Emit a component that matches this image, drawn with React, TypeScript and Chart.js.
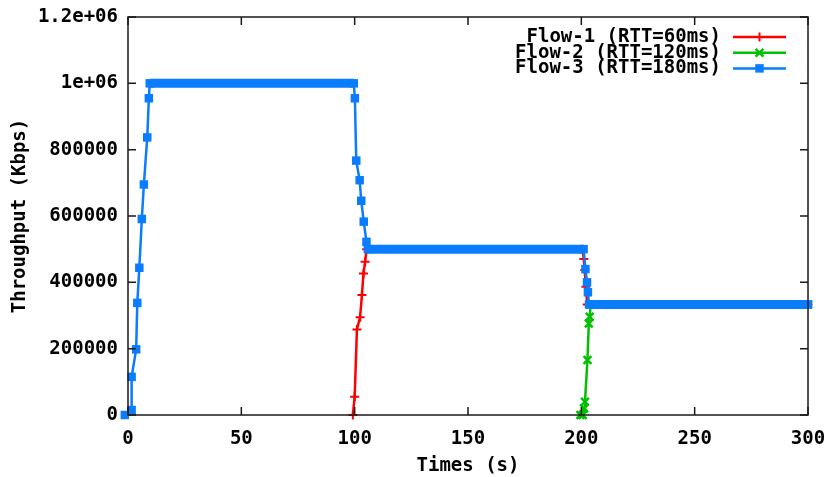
import React, { useEffect, useRef } from 'react';
import { Chart, registerables } from 'chart.js';
import { drawPoint } from 'chart.js/helpers';

Chart.register(...registerables);

// ---- data ----
const xTicks = [0, 50, 100, 150, 200, 250, 300];
const xTickLabels = ['0', '50', '100', '150', '200', '250', '300'];
const yTicks = [0, 200000, 400000, 600000, 800000, 1000000, 1200000];
const yTickLabels = ['0', '200000', '400000', '600000', '800000', '1e+06', '1.2e+06'];

const flow1Times = [99.2, 100, 101, 102.4, 103.2, 103.9, 104.6, 105.3, 200.5, 201.1, 201.5, 202, 202.6, 300];
const flow1Values = [0, 55000, 258000, 295000, 362000, 427000, 462000, 500000, 500000, 470000, 437000, 387000, 333333, 333333];

const flow2Times = [199.6, 200.6, 201.2, 201.6, 202.7, 203.3, 203.7, 204.1, 300];
const flow2Values = [0, 0, 20000, 40000, 166000, 276000, 296000, 333333, 333333];

const flow3Times = [-1.4, 1.6, 1.6, 3.6, 4.1, 5.0, 6.1, 7.0, 8.5, 9.2, 9.6, 99.6, 100.1, 100.7, 102.2, 102.9, 104.0, 105.2, 105.8, 201, 201.8, 202.5, 202.9, 203.4, 300];
const flow3Values = [0, 15000, 115000, 198000, 338000, 444000, 591000, 695000, 837000, 955000, 1000000, 1000000, 955000, 767000, 708000, 646000, 583000, 522000, 500000, 500000, 440000, 400000, 370000, 333333, 333333];

const seriesLabels = ['Flow-1 (RTT=60ms)', 'Flow-2 (RTT=120ms)', 'Flow-3 (RTT=180ms)'];
const seriesColors = ['#ff0000', '#00c000', '#0a7cff'];

const xTitle = 'Times (s)';
const yTitle = 'Throughput (Kbps)';

const FONT = '"DejaVu Sans Mono", "Liberation Mono", monospace';
const FS = 19;

const toPoints = (xs: number[], ys: number[]) => xs.map((x, i) => ({ x, y: ys[i] }));

const zeroPadding = (s: any) => {
  s.paddingTop = 0;
  s.paddingBottom = 0;
  s.paddingLeft = 0;
  s.paddingRight = 0;
};

const framePlugin = {
  id: 'gnuFrame',
  afterDatasetsDraw(chart: any) {
    const { ctx, chartArea } = chart;
    const { left, right, top, bottom } = chartArea;
    const xs = chart.scales.x;
    const ys = chart.scales.y;
    ctx.save();
    ctx.strokeStyle = '#1a1a1a';
    ctx.lineWidth = 1.5;
    ctx.beginPath();
    const tl = 8;
    xTicks.forEach((v) => {
      const px = xs.getPixelForValue(v);
      ctx.moveTo(px, bottom);
      ctx.lineTo(px, bottom - tl);
      ctx.moveTo(px, top);
      ctx.lineTo(px, top + tl);
    });
    yTicks.forEach((v) => {
      const py = ys.getPixelForValue(v);
      ctx.moveTo(left, py);
      ctx.lineTo(left + tl, py);
      ctx.moveTo(right, py);
      ctx.lineTo(right - tl, py);
    });
    ctx.stroke();
    ctx.strokeRect(left, top, right - left, bottom - top);
    ctx.restore();
  },
};

const legendPlugin = {
  id: 'gnuLegend',
  afterDraw(chart: any) {
    const { ctx } = chart;
    ctx.save();
    ctx.font = `bold ${FS}px ${FONT}`;
    ctx.textAlign = 'right';
    ctx.textBaseline = 'middle';
    chart.data.datasets.forEach((ds: any, i: number) => {
      const y = 37 + i * 15.7;
      ctx.fillStyle = '#000';
      ctx.fillText(ds.label, 721, y);
      ctx.strokeStyle = ds.borderColor;
      ctx.lineWidth = 2.5;
      ctx.beginPath();
      ctx.moveTo(733, y);
      ctx.lineTo(786, y);
      ctx.stroke();
      ctx.fillStyle = ds.borderColor;
      ctx.lineWidth = ds.pointBorderWidth;
      drawPoint(ctx, { pointStyle: ds.pointStyle, radius: ds.pointRadius, rotation: 0, borderWidth: ds.pointBorderWidth }, 759.5, y);
    });
    ctx.restore();
  },
};

export default function App() {
  const ref = useRef<HTMLCanvasElement>(null);
  useEffect(() => {
    document.body.style.margin = '0';
    document.body.style.overflow = 'hidden';
    const canvas = ref.current;
    if (!canvas) return;
    const chart = new Chart(canvas, {
      type: 'line',
      data: {
        datasets: [
          {
            label: seriesLabels[0],
            data: toPoints(flow1Times, flow1Values),
            borderColor: seriesColors[0],
            backgroundColor: seriesColors[0],
            borderWidth: 2.5,
            pointStyle: 'cross',
            pointRadius: 4.5,
            pointBorderWidth: 2,
            pointBorderColor: seriesColors[0],
            clip: false,
            order: 3,
          } as any,
          {
            label: seriesLabels[1],
            data: toPoints(flow2Times, flow2Values),
            borderColor: seriesColors[1],
            backgroundColor: seriesColors[1],
            borderWidth: 2.5,
            pointStyle: 'crossRot',
            pointRadius: 5.5,
            pointBorderWidth: 2.5,
            pointBorderColor: seriesColors[1],
            clip: false,
            order: 2,
          } as any,
          {
            label: seriesLabels[2],
            data: toPoints(flow3Times, flow3Values),
            borderColor: seriesColors[2],
            backgroundColor: seriesColors[2],
            borderWidth: 2.5,
            pointStyle: 'rect',
            pointRadius: 6,
            pointBorderWidth: 0,
            pointBorderColor: seriesColors[2],
            clip: false,
            order: 1,
            segment: {
              borderWidth: (c: any) => (c.p0.parsed.y === c.p1.parsed.y && c.p0.parsed.y > 0 ? 9 : 2.5),
            },
          } as any,
        ],
      },
      options: {
        responsive: false,
        animation: false,
        events: [],
        layout: { padding: { top: 17, right: 22, left: 0, bottom: 0 } },
        plugins: {
          legend: { display: false },
          tooltip: { enabled: false },
        },
        scales: {
          x: {
            type: 'linear',
            min: 0,
            max: 300,
            grid: { display: false, drawTicks: false },
            border: { display: false },
            afterBuildTicks: (s: any) => {
              s.ticks = xTicks.map((v) => ({ value: v }));
            },
            afterFit: (s: any) => {
              s.height = 62;
              zeroPadding(s);
            },
            ticks: {
              padding: 12.5,
              color: '#000',
              font: { family: FONT, size: FS, weight: 'bold' },
              maxRotation: 0,
              callback: (v: any) => {
                const i = xTicks.indexOf(Number(v));
                return i >= 0 ? xTickLabels[i] : '';
              },
            },
            title: {
              display: true,
              text: xTitle,
              color: '#000',
              font: { family: FONT, size: FS, weight: 'bold' },
              padding: { top: 0, bottom: 0 },
            },
          },
          y: {
            type: 'linear',
            min: 0,
            max: 1200000,
            grid: { display: false, drawTicks: false },
            border: { display: false },
            afterBuildTicks: (s: any) => {
              s.ticks = yTicks.map((v) => ({ value: v }));
            },
            afterFit: (s: any) => {
              s.width = 128;
              zeroPadding(s);
            },
            ticks: {
              padding: 10,
              color: '#000',
              font: { family: FONT, size: FS, weight: 'bold' },
              callback: (v: any) => {
                const i = yTicks.indexOf(Number(v));
                return i >= 0 ? yTickLabels[i] : '';
              },
            },
            title: {
              display: true,
              text: yTitle,
              color: '#000',
              font: { family: FONT, size: FS, weight: 'bold' },
              padding: { top: 8.6, bottom: 0 },
            },
          },
        },
      } as any,
      plugins: [framePlugin, legendPlugin],
    });
    return () => chart.destroy();
  }, []);
  return (
    <div style={{ width: 830, height: 477 }}>
      <canvas ref={ref} width={830} height={477} style={{ display: 'block', width: 830, height: 477 }} />
    </div>
  );
}
